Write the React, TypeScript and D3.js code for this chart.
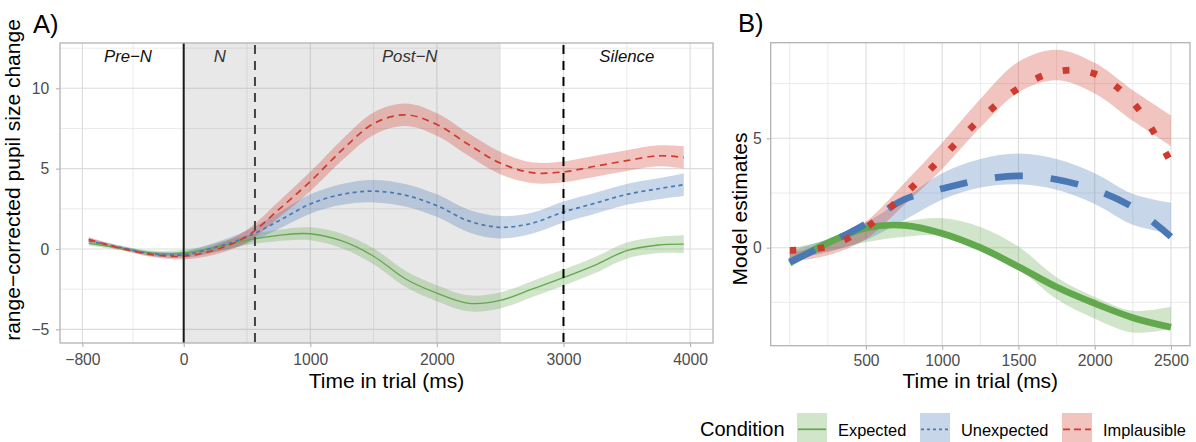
import React, { useEffect, useRef } from 'react';
import * as d3 from 'd3';

// Panel A: smoothed pupil traces (mean and half-width of the ribbon)
const timeA = [-750, -500, -250, 0, 250, 500, 750, 1000, 1250, 1500, 1750, 2000, 2250, 2500, 2750, 3000, 3250, 3500, 3750, 3950];
const expectedMean = [0.35, 0.05, -0.25, -0.25, 0.1, 0.55, 0.85, 0.95, 0.5, -0.45, -1.85, -2.75, -3.38, -3.2, -2.5, -1.78, -1.0, -0.1, 0.25, 0.3];
const unexpectedMean = [0.5, 0.1, -0.3, -0.35, 0.1, 0.75, 1.75, 2.8, 3.4, 3.6, 3.35, 2.7, 1.75, 1.35, 1.6, 2.3, 2.85, 3.4, 3.75, 4.0];
const implausibleMean = [0.6, 0.05, -0.35, -0.45, -0.05, 0.8, 2.45, 4.2, 6.15, 7.8, 8.35, 7.75, 6.5, 5.35, 4.75, 4.8, 5.15, 5.5, 5.8, 5.7];
const expectedSe = [0.15, 0.12, 0.15, 0.2, 0.25, 0.3, 0.35, 0.4, 0.45, 0.5, 0.5, 0.5, 0.5, 0.5, 0.5, 0.5, 0.5, 0.5, 0.5, 0.55];
const unexpectedSe = [0.15, 0.12, 0.15, 0.2, 0.3, 0.4, 0.5, 0.6, 0.65, 0.7, 0.7, 0.7, 0.7, 0.7, 0.65, 0.65, 0.65, 0.65, 0.65, 0.7];
const implausibleSe = [0.15, 0.12, 0.15, 0.2, 0.3, 0.4, 0.5, 0.6, 0.65, 0.7, 0.7, 0.7, 0.7, 0.7, 0.65, 0.65, 0.65, 0.65, 0.65, 0.7];

// Panel B: model estimates
const timeB = [0, 250, 500, 750, 1000, 1250, 1500, 1750, 2000, 2250, 2500];
const expectedModel = [-0.7, 0.22, 0.9, 1.02, 0.65, 0.0, -0.87, -1.8, -2.55, -3.2, -3.64];
const unexpectedModel = [-0.65, 0.18, 1.1, 2.2, 2.7, 3.1, 3.28, 3.12, 2.65, 1.85, 0.5];
const implausibleModel = [-0.12, 0.05, 0.92, 2.42, 4.13, 5.88, 7.28, 8.05, 7.95, 6.65, 3.9];

const conditions = ['Expected', 'Unexpected', 'Implausible'];

const xTicksA = [-800, 0, 1000, 2000, 3000, 4000];
const xMinorA = [-400, 500, 1500, 2500, 3500];
const yTicksA = [-5, 0, 5, 10];
const yMinorA = [-2.5, 2.5, 7.5, 12.5];
const xTicksB = [500, 1000, 1500, 2000, 2500];
const xMinorB = [0, 250, 750, 1250, 1750, 2250];
const yTicksB = [0, 5];
const yMinorB = [-2.5, 2.5, 7.5];

const phaseLabels = ['Pre−N', 'N', 'Post−N', 'Silence'];
const phaseCenters = [-440, 285, 1785, 3500];
const shadedWindow = [0, 2500];
const targetOnset = 0;
const nounOffset = 563;
const silenceOnset = 3000;

const FONT = "'Liberation Sans', Arial, Helvetica, sans-serif";
const colors: Record<string, string> = { Expected: '#62a84c', Unexpected: '#4a78b5', Implausible: '#cf3a2e' };
const dashA: Record<string, string | null> = { Expected: null, Unexpected: '4 3.5', Implausible: '7 5' };
const widthA: Record<string, number> = { Expected: 1.3, Unexpected: 1.7, Implausible: 1.7 };
const dashB: Record<string, string | null> = { Expected: null, Unexpected: '28 28', Implausible: '6.7 21.3' };
const dashKey: Record<string, string | null> = { Expected: null, Unexpected: '3 3', Implausible: '7 4' };

const seriesA = conditions.map((name, i) => ({
    name,
    points: timeA.map((t, j) => ({
        t,
        v: [expectedMean, unexpectedMean, implausibleMean][i][j],
        se: [expectedSe, unexpectedSe, implausibleSe][i][j],
    })),
}));

const seriesB = conditions.map((name, i) => ({
    name,
    points: timeB.map((t, j) => ({ t, v: [expectedModel, unexpectedModel, implausibleModel][i][j] })),
}));

const styleAxis = (g: any) => {
    g.select('.domain').remove();
    g.selectAll('line').attr('stroke', '#b3b3b3').attr('stroke-width', 1.1);
    g.selectAll('text').attr('fill', '#4d4d4d').style('font-size', '15.7px').style('font-family', FONT);
};

const drawGrid = (g: any, x: any, y: any, box: any, xMaj: number[], xMin: number[], yMaj: number[], yMin: number[]) => {
    const grid = g.append('g');
    grid.selectAll('.vmin').data(xMin).enter().append('line')
        .attr('x1', (d: number) => x(d)).attr('x2', (d: number) => x(d))
        .attr('y1', box.top).attr('y2', box.bottom)
        .attr('stroke', '#e6e6e6').attr('stroke-width', 0.8);
    grid.selectAll('.hmin').data(yMin).enter().append('line')
        .attr('y1', (d: number) => y(d)).attr('y2', (d: number) => y(d))
        .attr('x1', box.left).attr('x2', box.right)
        .attr('stroke', '#e6e6e6').attr('stroke-width', 0.8);
    grid.selectAll('.vmaj').data(xMaj).enter().append('line')
        .attr('x1', (d: number) => x(d)).attr('x2', (d: number) => x(d))
        .attr('y1', box.top).attr('y2', box.bottom)
        .attr('stroke', '#dcdcdc').attr('stroke-width', 1.1);
    grid.selectAll('.hmaj').data(yMaj).enter().append('line')
        .attr('y1', (d: number) => y(d)).attr('y2', (d: number) => y(d))
        .attr('x1', box.left).attr('x2', box.right)
        .attr('stroke', '#dcdcdc').attr('stroke-width', 1.1);
};

const drawPanelA = (svg: any) => {
    const box = { left: 60, right: 713, top: 43, bottom: 343 };
    const x = d3.scaleLinear().domain([-977, 4181]).range([box.left, box.right]);
    const y = d3.scaleLinear().domain([-5.85, 12.82]).range([box.bottom, box.top]);

    drawGrid(svg, x, y, box, xTicksA, xMinorA, yTicksA, yMinorA);

    svg.append('rect')
        .attr('x', x(shadedWindow[0])).attr('width', x(shadedWindow[1]) - x(shadedWindow[0]))
        .attr('y', box.top).attr('height', box.bottom - box.top)
        .attr('fill', '#808080').attr('fill-opacity', 0.18);

    const area = d3.area<any>()
        .x(d => x(d.t)).y0(d => y(d.v - d.se)).y1(d => y(d.v + d.se))
        .curve(d3.curveCatmullRom.alpha(0.5));
    const line = d3.line<any>().x(d => x(d.t)).y(d => y(d.v)).curve(d3.curveCatmullRom.alpha(0.5));

    seriesA.forEach(s => {
        svg.append('path').datum(s.points).attr('d', area)
            .attr('fill', colors[s.name]).attr('fill-opacity', 0.3);
    });
    seriesA.forEach(s => {
        svg.append('path').datum(s.points).attr('d', line)
            .attr('fill', 'none').attr('stroke', colors[s.name])
            .attr('stroke-width', widthA[s.name])
            .attr('stroke-dasharray', dashA[s.name]);
    });

    svg.append('line')
        .attr('x1', x(targetOnset)).attr('x2', x(targetOnset)).attr('y1', box.top).attr('y2', box.bottom)
        .attr('stroke', '#1a1a1a').attr('stroke-width', 2);
    svg.append('line')
        .attr('x1', x(nounOffset)).attr('x2', x(nounOffset)).attr('y1', box.top + 2).attr('y2', box.bottom)
        .attr('stroke', '#444').attr('stroke-width', 2).attr('stroke-dasharray', '9 7');
    svg.append('line')
        .attr('x1', x(silenceOnset)).attr('x2', x(silenceOnset)).attr('y1', box.top + 2).attr('y2', box.bottom)
        .attr('stroke', '#000').attr('stroke-width', 2).attr('stroke-dasharray', '9 7');

    svg.selectAll('.phase').data(phaseLabels).enter().append('text')
        .attr('x', (_d: string, i: number) => x(phaseCenters[i]))
        .attr('y', 62)
        .attr('text-anchor', 'middle')
        .style('font-style', 'italic').style('font-size', '16.8px').style('font-family', FONT)
        .attr('fill', (_d: string, i: number) => (i === 0 || i === 3 ? '#111' : '#333'))
        .text((d: string) => d);

    svg.append('rect')
        .attr('x', box.left).attr('y', box.top)
        .attr('width', box.right - box.left).attr('height', box.bottom - box.top)
        .attr('fill', 'none').attr('stroke', '#b3b3b3').attr('stroke-width', 1.3);

    svg.append('g').attr('transform', `translate(0,${box.bottom})`)
        .call(d3.axisBottom(x).tickValues(xTicksA).tickSize(4).tickPadding(6.8).tickFormat(d3.format('d')))
        .call(styleAxis);
    svg.append('g').attr('transform', `translate(${box.left},0)`)
        .call(d3.axisLeft(y).tickValues(yTicksA).tickSize(4).tickPadding(6.7))
        .call(styleAxis);

    svg.append('text').attr('x', (box.left + box.right) / 2).attr('y', 387.7)
        .attr('text-anchor', 'middle').style('font-size', '21px').style('font-family', FONT)
        .text('Time in trial (ms)');
    svg.append('text').attr('transform', 'translate(19.5,180) rotate(-90)')
        .attr('text-anchor', 'middle').style('font-size', '21px').style('font-family', FONT)
        .text('range−corrected pupil size change');
    svg.append('text').attr('x', 33).attr('y', 33)
        .style('font-size', '25.6px').style('font-family', FONT).text('A)');
};

const drawPanelB = (svg: any) => {
    const box = { left: 770.7, right: 1190, top: 42.7, bottom: 345.7 };
    const x = d3.scaleLinear().domain([-125, 2625]).range([box.left, box.right]);
    const y = d3.scaleLinear().domain([-4.48, 9.37]).range([box.bottom, box.top]);

    drawGrid(svg, x, y, box, xTicksB, xMinorB, yTicksB, yMinorB);

    const area = d3.area<any>()
        .x(d => x(d.t)).y0(d => y(d.v - d.se)).y1(d => y(d.v + d.se))
        .curve(d3.curveCatmullRom.alpha(0.5));
    const line = d3.line<any>().x(d => x(d.t)).y(d => y(d.v)).curve(d3.curveCatmullRom.alpha(0.5));

    seriesA.forEach(s => {
        const pts = s.points.filter(p => p.t >= shadedWindow[0] && p.t <= shadedWindow[1]);
        svg.append('path').datum(pts).attr('d', area)
            .attr('fill', colors[s.name]).attr('fill-opacity', 0.3);
    });
    seriesB.forEach(s => {
        svg.append('path').datum(s.points).attr('d', line)
            .attr('fill', 'none').attr('stroke', colors[s.name])
            .attr('stroke-width', 6.7)
            .attr('stroke-dasharray', dashB[s.name]);
    });

    svg.append('rect')
        .attr('x', box.left).attr('y', box.top)
        .attr('width', box.right - box.left).attr('height', box.bottom - box.top)
        .attr('fill', 'none').attr('stroke', '#b3b3b3').attr('stroke-width', 1.3);

    svg.append('g').attr('transform', `translate(0,${box.bottom})`)
        .call(d3.axisBottom(x).tickValues(xTicksB).tickSize(4).tickPadding(5.6).tickFormat(d3.format('d')))
        .call(styleAxis);
    svg.append('g').attr('transform', `translate(${box.left},0)`)
        .call(d3.axisLeft(y).tickValues(yTicksB).tickSize(4).tickPadding(5))
        .call(styleAxis);

    svg.append('text').attr('x', (box.left + box.right) / 2).attr('y', 388)
        .attr('text-anchor', 'middle').style('font-size', '21px').style('font-family', FONT)
        .text('Time in trial (ms)');
    svg.append('text').attr('transform', 'translate(747,209) rotate(-90)')
        .attr('text-anchor', 'middle').style('font-size', '21px').style('font-family', FONT)
        .text('Model estimates');
    svg.append('text').attr('x', 738).attr('y', 32)
        .style('font-size', '25.6px').style('font-family', FONT).text('B)');
};

const drawLegend = (svg: any) => {
    const keyX = [797, 920, 1062];
    const g = svg.append('g');
    g.append('text').attr('x', 700).attr('y', 436)
        .style('font-size', '20px').style('font-family', FONT).text('Condition');
    conditions.forEach((name, i) => {
        g.append('rect').attr('x', keyX[i]).attr('y', 413).attr('width', 30).attr('height', 29)
            .attr('fill', colors[name]).attr('fill-opacity', 0.3);
        g.append('line').attr('x1', keyX[i] + 1).attr('x2', keyX[i] + 29).attr('y1', 429.3).attr('y2', 429.3)
            .attr('stroke', colors[name]).attr('stroke-width', 1.7)
            .attr('stroke-dasharray', dashKey[name]);
        g.append('text').attr('x', keyX[i] + 41).attr('y', 436)
            .style('font-size', '16.4px').style('font-family', FONT).text(name);
    });
};

export default function App() {
    const ref = useRef<SVGSVGElement>(null);

    useEffect(() => {
        const svg = d3.select(ref.current);
        svg.selectAll('*').remove();
        drawPanelA(svg.append('g'));
        drawPanelB(svg.append('g'));
        drawLegend(svg);
    }, []);

    return (
        <svg
            ref={ref}
            width={1196}
            height={442}
            style={{ position: 'absolute', left: 0, top: 0, background: '#fff' }}
        />
    );
}
